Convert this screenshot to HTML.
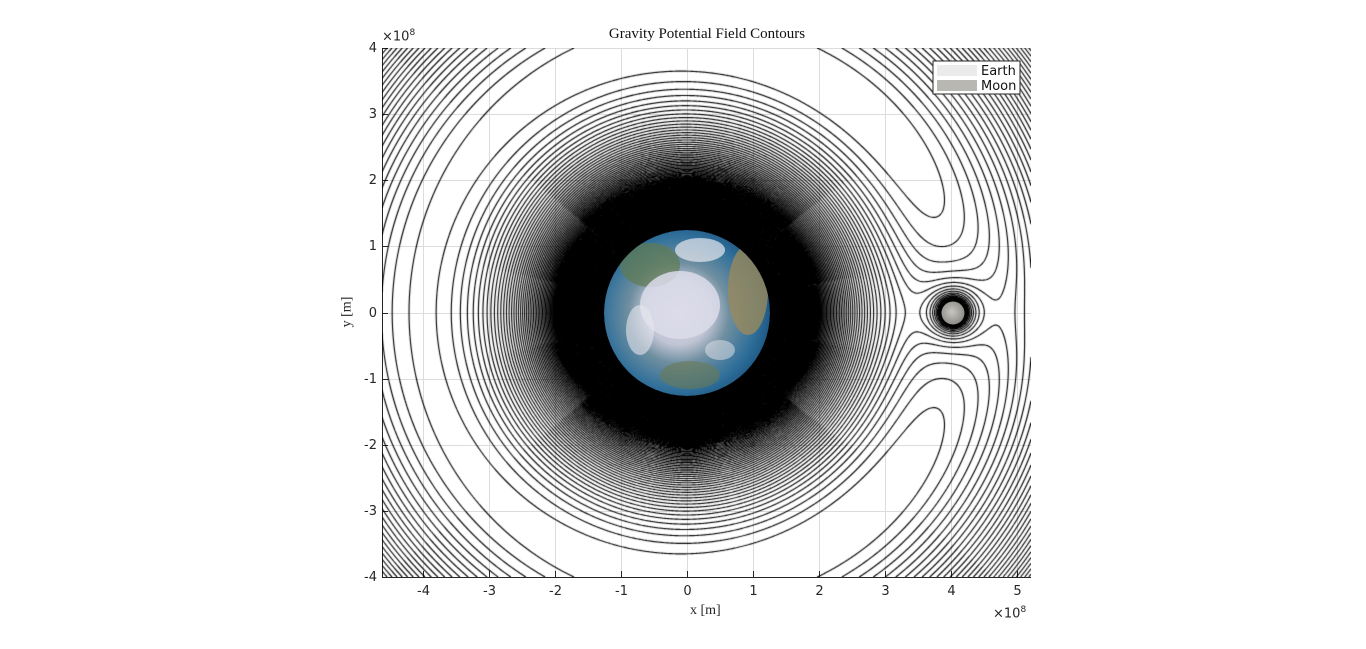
<!DOCTYPE html>
<html><head><meta charset="utf-8">
<style>
html,body{margin:0;padding:0;background:#fff;}
#root{position:relative;width:1366px;height:649px;overflow:hidden;font-family:"DejaVu Sans","Liberation Sans",sans-serif;}
.t{position:absolute;font-size:13px;color:#262626;white-space:nowrap;}
.serif{font-family:"Liberation Serif","DejaVu Serif",serif;}
</style></head>
<body>
<div id="root">
<div class="t serif" style="left:0;width:1414px;text-align:center;top:26px;font-size:15px;color:#111;">Gravity Potential Field Contours</div>
<svg id="grid" width="1366" height="649" style="position:absolute;left:0;top:0;"></svg>
<canvas id="cv" width="649" height="529" style="position:absolute;left:382px;top:48px;"></canvas>
<svg id="over" width="1366" height="649" style="position:absolute;left:0;top:0;">
<defs>
<radialGradient id="eg" cx="0.45" cy="0.5" r="0.55">
<stop offset="0" stop-color="#d8d8e6"/><stop offset="0.35" stop-color="#c0c4d4"/><stop offset="0.55" stop-color="#6f8fa0"/><stop offset="0.85" stop-color="#2f6f9a"/><stop offset="1" stop-color="#1f5a86"/>
</radialGradient>
<radialGradient id="mg" cx="0.45" cy="0.45" r="0.6"><stop offset="0" stop-color="#c8c6c0"/><stop offset="1" stop-color="#8a8884"/></radialGradient>
<clipPath id="ec"><circle cx="687" cy="313" r="83"/></clipPath>
</defs>
<g clip-path="url(#ec)">
<circle cx="687" cy="313" r="83" fill="url(#eg)"/>
<ellipse cx="748" cy="290" rx="20" ry="45" fill="#9a8a5c" opacity="0.8"/>
<ellipse cx="650" cy="265" rx="30" ry="22" fill="#5f7a50" opacity="0.7"/>
<ellipse cx="690" cy="375" rx="30" ry="14" fill="#6a7a55" opacity="0.6"/>
<ellipse cx="680" cy="305" rx="40" ry="34" fill="#dcdcea" opacity="0.85"/>
<ellipse cx="640" cy="330" rx="14" ry="25" fill="#e6e6ee" opacity="0.6"/>
<ellipse cx="700" cy="250" rx="25" ry="12" fill="#e8e8ee" opacity="0.7"/>
<ellipse cx="720" cy="350" rx="15" ry="10" fill="#e8e8ee" opacity="0.5"/>
</g>
<circle cx="953" cy="313" r="11.5" fill="url(#mg)"/>
<g>
<rect x="933" y="61" width="87" height="33" fill="#fff" stroke="#262626" stroke-width="1"/>
<rect x="937" y="65" width="40" height="11" fill="#ebebeb"/>
<rect x="937" y="80" width="40" height="11" fill="#b9b7b1"/>
<text x="981" y="75" font-size="13" fill="#111" font-family="DejaVu Sans,sans-serif">Earth</text>
<text x="981" y="90" font-size="13" fill="#111" font-family="DejaVu Sans,sans-serif">Moon</text>
</g>
</svg>
<div class="t" style="left:382px;top:28px;">×10<sup style="font-size:9px">8</sup></div>
<div class="t" style="left:993px;top:605px;">×10<sup style="font-size:9px">8</sup></div>
<div class="t serif" style="left:690px;top:603px;font-size:14px;">x [m]</div>
<div class="t serif" style="left:332px;top:304px;font-size:14px;transform:rotate(-90deg);">y [m]</div>
<div id="labels"></div>
</div>
<script>
const xTicks=[-4,-3,-2,-1,0,1,2,3,4,5];
const yTicks=[-4,-3,-2,-1,0,1,2,3,4];
const xDomain=[-4.62,5.21];
const yDomain=[-4,4];
const earthMu=1, moonMu=0.0123, moonX=4.03;
const levelTop=-0.3793, levelStep=0.0037, levelBottom=-0.82;

const L=382,R=1031,T=48,B=577;
const sx=v=>L+(v-xDomain[0])/(xDomain[1]-xDomain[0])*(R-L);
const sy=v=>B-(v-yDomain[0])/(yDomain[1]-yDomain[0])*(B-T);
const ns='http://www.w3.org/2000/svg';
const g=document.getElementById('grid');
const lab=document.getElementById('labels');
function ln(x1,y1,x2,y2,c,name){const e=document.createElementNS(ns,'line');e.setAttribute('x1',x1);e.setAttribute('y1',y1);e.setAttribute('x2',x2);e.setAttribute('y2',y2);e.setAttribute('stroke',c);e.setAttribute('stroke-width',1);


g.appendChild(e);return e;}
xTicks.forEach(v=>{const x=Math.round(sx(v))+0.5;ln(x,T,x,B,'#dcdcdc','x-grid-line');
const d=document.createElement('div');d.className='t';d.style.left=(x-15)+'px';d.style.width='30px';d.style.textAlign='center';d.style.top='584px';d.textContent=v;


lab.appendChild(d);});
yTicks.forEach(v=>{const y=Math.round(sy(v))+0.5;ln(L,y,R,y,'#dcdcdc','y-grid-line');
const d=document.createElement('div');d.className='t';d.style.left='340px';d.style.width='37px';d.style.textAlign='right';d.style.top=(y-8)+'px';d.textContent=v;


lab.appendChild(d);});

const cv=document.getElementById('cv'),ctx=cv.getContext('2d');
const W=650,H=530;
const w2=(earthMu+moonMu)/Math.pow(moonX,3);
const xb=moonMu*moonX/(earthMu+moonMu);
const F=new Float32Array(W*H);
for(let j=0;j<H;j++)for(let i=0;i<W;i++){
 const x=xDomain[0]+i/(R-L)*(xDomain[1]-xDomain[0]);
 const y=yDomain[1]-j/(B-T)*(yDomain[1]-yDomain[0]);
 const r1=Math.max(Math.hypot(x,y),0.3), r2=Math.max(Math.hypot(x-moonX,y),0.08);
 F[j*W+i]=-earthMu/r1-moonMu/r2-0.5*w2*((x-xb)*(x-xb)+y*y);
}
const levels=[];for(let v=levelTop;v>=levelBottom;v-=levelStep)levels.push(v);
ctx.strokeStyle='#000';ctx.lineWidth=1.15;ctx.beginPath();
function ip(a,b,l){return (l-a)/(b-a);}
for(let j=0;j<H-1;j++)for(let i=0;i<W-1;i++){
 const a=F[j*W+i],b=F[j*W+i+1],c=F[(j+1)*W+i+1],d=F[(j+1)*W+i];
 const mn=Math.min(a,b,c,d),mx=Math.max(a,b,c,d);
 if(mn>levelTop||mx<levelBottom)continue;
 const k0=Math.max(0,Math.ceil((levelTop-mx)/levelStep)),k1=Math.min(levels.length-1,Math.floor((levelTop-mn)/levelStep));
 for(let k=k0;k<=k1;k++){const l=levels[k];const pts=[];
  if((a<l)!==(b<l))pts.push([i+ip(a,b,l),j]);
  if((b<l)!==(c<l))pts.push([i+1,j+ip(b,c,l)]);
  if((d<l)!==(c<l))pts.push([i+ip(d,c,l),j+1]);
  if((a<l)!==(d<l))pts.push([i,j+ip(a,d,l)]);
  for(let p=0;p+1<pts.length;p+=2){ctx.moveTo(pts[p][0],pts[p][1]);ctx.lineTo(pts[p+1][0],pts[p+1][1]);}
 }
}
ctx.stroke();
ln(L+0.5,T,L+0.5,B,'#262626','y-axis-line');ln(L,B+0.5,R,B+0.5,'#262626','x-axis-line');
xTicks.forEach(v=>{const x=Math.round(sx(v))+0.5;ln(x,B,x,B-6,'#262626','x-tick');});
yTicks.forEach(v=>{const y=Math.round(sy(v))+0.5;ln(L,y,L+6,y,'#262626','y-tick');});
</script>
</body></html>
